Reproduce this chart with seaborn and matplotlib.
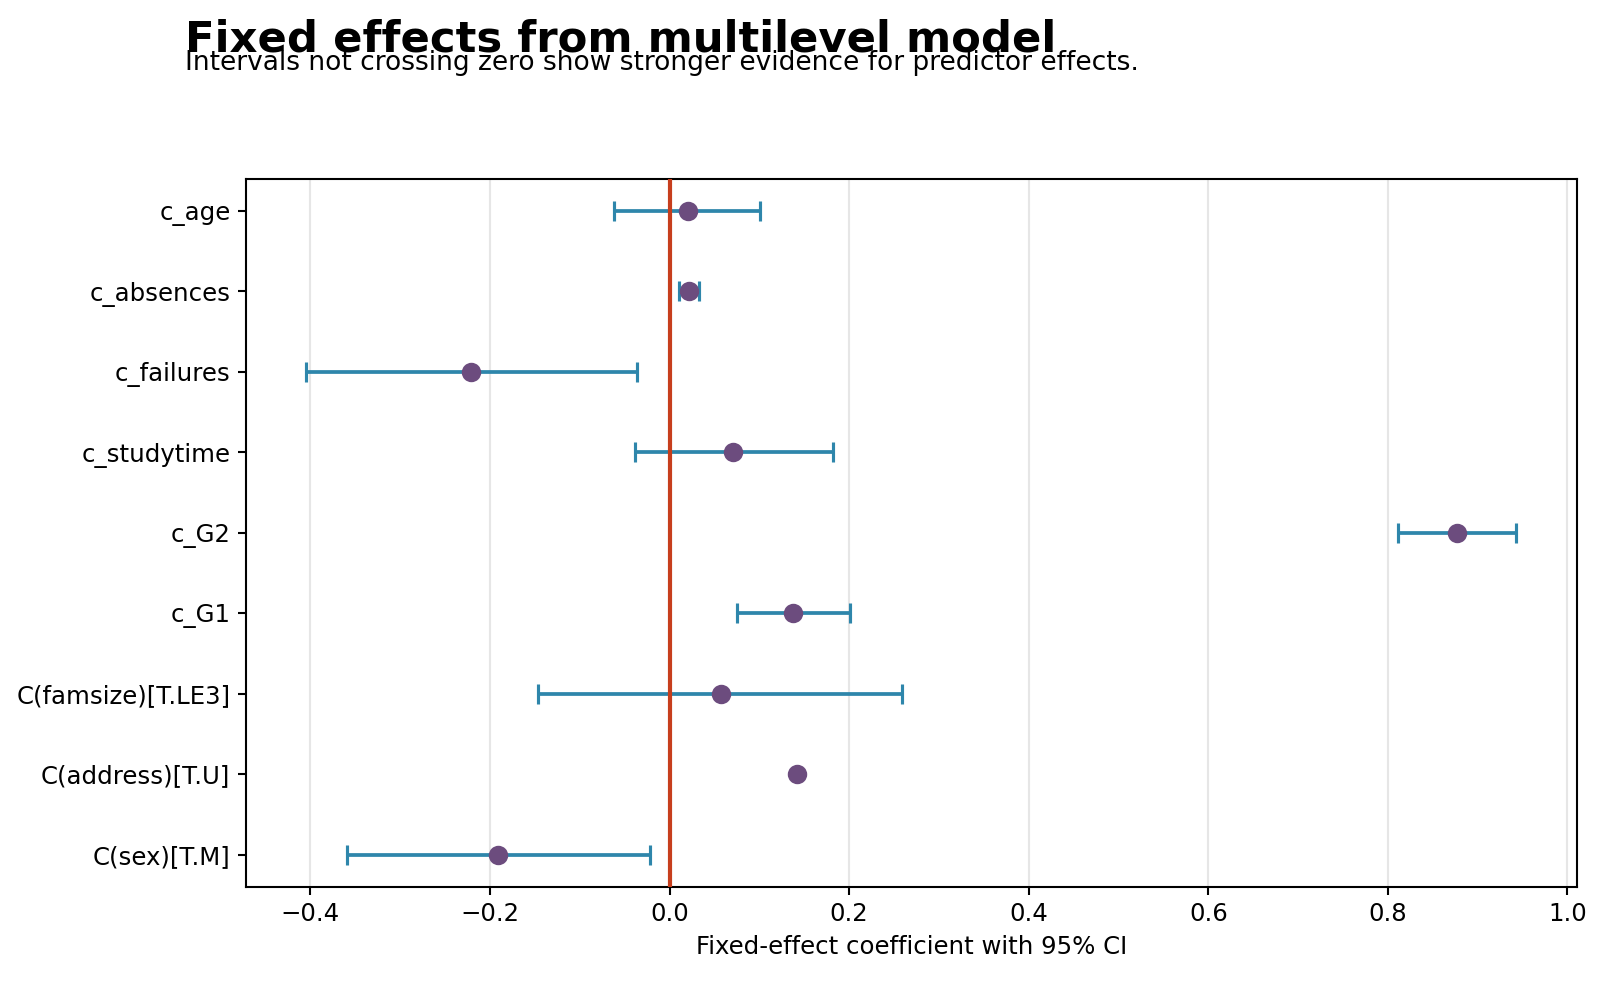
import numpy as np
import pandas as pd
import matplotlib
matplotlib.use("Agg")
import matplotlib.pyplot as plt
import seaborn as sns

# ----------------------------------------------------------
# Fixed-effect estimates and 95% CI
# ----------------------------------------------------------
terms = ["c_age", "c_absences", "c_failures", "c_studytime", "c_G2",
         "c_G1", "C(famsize)[T.LE3]", "C(address)[T.U]", "C(sex)[T.M]"]
coef = [0.021, 0.022, -0.221, 0.071, 0.877, 0.138, 0.057, 0.142, -0.191]
ci_low = [-0.062, 0.011, -0.405, -0.039, 0.811, 0.075, -0.147, np.nan, -0.359]
ci_high = [0.101, 0.033, -0.036, 0.182, 0.943, 0.201, 0.259, np.nan, -0.022]

df = pd.DataFrame({"term": terms, "coef": coef, "lo": ci_low, "hi": ci_high})

sns.set_style("white")
plt.rcParams.update({"text.color": "black", "axes.labelcolor": "black",
                     "xtick.color": "black", "ytick.color": "black"})
fig = plt.figure(figsize=(1600 / 150, 981 / 150), dpi=150)
ax = fig.add_axes([0.1538, 0.0961, 0.8316, 0.7219])

# points
sns.pointplot(data=df, x="coef", y="term", order=terms, linestyle="none",
              errorbar=None, color="#6C4C7E", markersize=7.3, ax=ax, zorder=4)

# confidence intervals
ypos = np.arange(len(terms))
xerr = np.vstack([df["coef"] - df["lo"], df["hi"] - df["coef"]])
ax.errorbar(df["coef"], ypos, xerr=xerr, fmt="none", ecolor="#2E86AB",
            elinewidth=1.8, capsize=5, capthick=1.5, zorder=2)

ax.axvline(0, color="#C73E1D", linewidth=2, zorder=3)

ax.set_xlim(-0.4716, 1.0102)
ax.set_ylim(len(terms) - 0.6, -0.4)
ax.grid(axis="x", color="#e6e6e6", linewidth=1)
ax.grid(axis="y", visible=False)
ax.set_axisbelow(True)
for s in ax.spines.values():
    s.set_color("black")
    s.set_linewidth(1)
ax.tick_params(axis="both", which="both", length=4, width=1, color="black",
               labelsize=11.7, bottom=True, left=True)
ax.set_xlabel("Fixed-effect coefficient with 95% CI", fontsize=11.7)
ax.set_ylabel("")

fig.text(0.1154, 0.948, "Fixed effects from multilevel model",
         fontsize=20.8, fontweight="bold", ha="left", va="baseline")
fig.text(0.1154, 0.929, "Intervals not crossing zero show stronger evidence for predictor effects.",
         fontsize=12.7, ha="left", va="baseline")

fig.savefig("out.png", dpi=150)
